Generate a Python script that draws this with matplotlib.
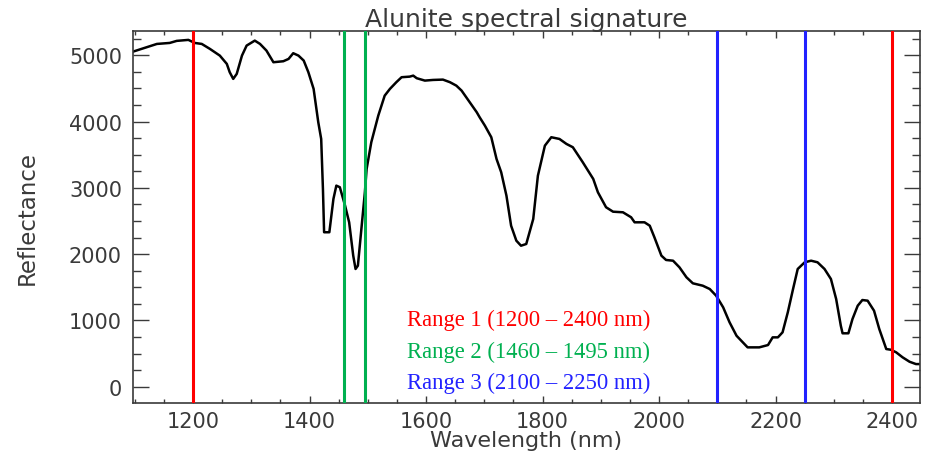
import matplotlib
matplotlib.use('Agg')
import matplotlib.pyplot as plt
from matplotlib.ticker import MultipleLocator

# Alunite reflectance spectrum (wavelength in nm, reflectance scaled x10000)
wavelength = [
    1097, 1115, 1138, 1160, 1172, 1192, 1203, 1215, 1229, 1246, 1258, 1263,
    1269, 1275, 1284, 1292, 1306, 1315, 1326, 1338, 1355, 1364, 1372, 1381,
    1390, 1398, 1407, 1415, 1420, 1423, 1425, 1434, 1441, 1446, 1452, 1461,
    1468, 1475, 1479, 1483, 1489, 1495, 1498, 1506, 1518, 1529, 1538, 1549,
    1558, 1572, 1578, 1584, 1598, 1612, 1629, 1641, 1652, 1661, 1669, 1675,
    1687, 1692, 1701, 1712, 1721, 1729, 1738, 1746, 1755, 1763, 1772, 1784,
    1792, 1804, 1815, 1829, 1841, 1852, 1869, 1887, 1895, 1909, 1921, 1938,
    1952, 1958, 1975, 1984, 1992, 2004, 2012, 2024, 2035, 2047, 2058, 2075,
    2087, 2098, 2110, 2121, 2133, 2152, 2172, 2187, 2195, 2204, 2212, 2221,
    2230, 2238, 2250, 2261, 2272, 2284, 2295, 2304, 2312, 2315, 2325, 2332,
    2341, 2349, 2358, 2369, 2378, 2390, 2398, 2407, 2418, 2430, 2441, 2448,
]
reflectance = [
    5054, 5105, 5170, 5185, 5216, 5231, 5185, 5170, 5095, 4994, 4869, 4743,
    4643, 4718, 4994, 5145, 5220, 5170, 5070, 4894, 4909, 4944, 5030, 4994,
    4919, 4743, 4492, 3989, 3737, 2983, 2330, 2330, 2832, 3033, 3009, 2731,
    2480, 1977, 1776, 1826, 2379, 2933, 3285, 3687, 4089, 4390, 4492, 4593,
    4668, 4677, 4692, 4653, 4617, 4627, 4632, 4593, 4541, 4466, 4366, 4291,
    4140, 4064, 3938, 3763, 3435, 3235, 2882, 2429, 2203, 2127, 2153, 2530,
    3183, 3636, 3763, 3737, 3662, 3612, 3386, 3134, 2933, 2707, 2640, 2631,
    2556, 2480, 2480, 2429, 2254, 1977, 1912, 1901, 1801, 1651, 1560, 1524,
    1474, 1373, 1198, 972, 769, 594, 594, 629, 745, 745, 821, 1123,
    1474, 1776, 1877, 1901, 1877, 1776, 1625, 1323, 920, 806, 806, 1021,
    1222, 1308, 1298, 1147, 871, 569, 558, 519, 444, 377, 342, 342,
]

# Wavelength ranges marked on the spectrum
range_labels = ['Range 1 (1200 – 2400 nm)', 'Range 2 (1460 – 1495 nm)', 'Range 3 (2100 – 2250 nm)']
range_bounds = [(1200, 2400), (1460, 1495), (2100, 2250)]
range_colors = ['#ff0000', '#00b050', '#2222ff']

axis_gray = '#3a3a3a'

fig = plt.figure(figsize=(9.27, 4.52), dpi=100)
ax = fig.add_axes([0.1435, 0.1062, 0.849, 0.823])

ax.plot(wavelength, reflectance, color='black', linewidth=1.8, zorder=2)

for (lo, hi), col in zip(range_bounds, range_colors):
    ax.axvline(lo, color=col, linewidth=2.2, zorder=3)
    ax.axvline(hi, color=col, linewidth=2.2, zorder=3)

ax.set_xlim(1097, 2448)
ax.set_ylim(-245, 5365)

ax.xaxis.set_major_locator(MultipleLocator(200))
ax.xaxis.set_minor_locator(MultipleLocator(50))
ax.yaxis.set_major_locator(MultipleLocator(1000))
ax.yaxis.set_minor_locator(MultipleLocator(250))

ax.tick_params(axis='both', which='both', direction='in', top=True, right=True,
               colors=axis_gray, width=1.0, labelsize=15, labelcolor=axis_gray)
ax.tick_params(axis='x', which='major', length=5.3, pad=6)
ax.tick_params(axis='x', which='minor', length=2.7)
ax.tick_params(axis='y', which='major', length=11.3, pad=8)
ax.tick_params(axis='y', which='minor', length=5.6)
for sp in ax.spines.values():
    sp.set_color(axis_gray)
    sp.set_linewidth(1.2)

ax.set_title('Alunite spectral signature', fontsize=18, color=axis_gray, pad=0)
ax.set_xlabel('Wavelength (nm)', fontsize=16, color=axis_gray, labelpad=-1)
ax.set_ylabel('Reflectance', fontsize=16.5, color=axis_gray, labelpad=22)

# Legend-style annotations, one line per range
text_y = [0.2097, 0.1245, 0.0395]
for label, col, ty in zip(range_labels, range_colors, text_y):
    ax.text(0.348, ty, label, transform=ax.transAxes, color=col, fontsize=16.3,
            family='Liberation Serif', va='baseline', ha='left')

fig.savefig('out.png', dpi=100)
